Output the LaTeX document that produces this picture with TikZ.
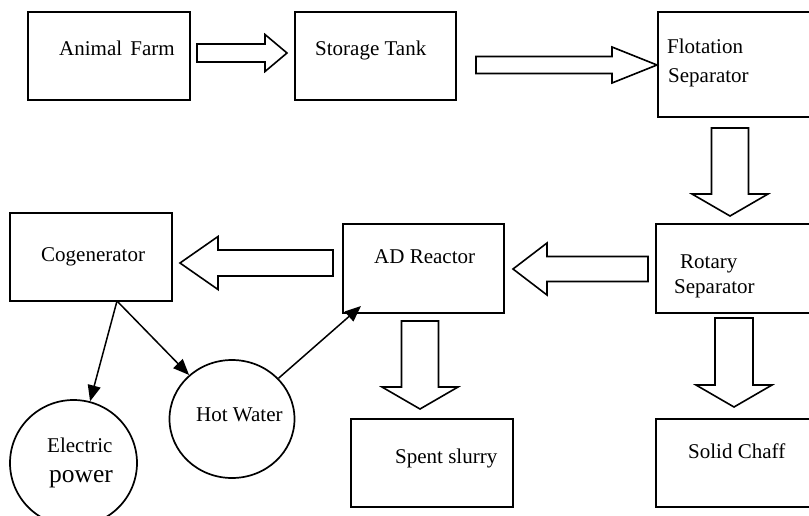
\documentclass[tikz,border=0pt]{standalone}
\usepackage{fontspec}
\setmainfont{Liberation Serif}
\usetikzlibrary{arrows.meta,shapes.geometric}

\tikzset{
  box/.style={draw, line width=1.7pt, inner sep=0pt},
  tank/.style={box, ellipse},
  lbl/.style={anchor=base west, inner sep=0pt, font=\fontsize{21}{25}\selectfont},
  flow/.style={draw, line width=1.6pt, line join=miter},
  conn/.style={line width=1.5pt, -{Triangle[length=16pt,width=13pt]}},
}

\begin{document}
\begin{tikzpicture}[x=1pt, y=-1pt]
  \useasboundingbox (0,0) rectangle (809,515);
  \clip (0,0) rectangle (809,515);
  % process boxes
  \node[box, minimum width=162, minimum height=88] (farm) at (109,56) {};
  \node[box, minimum width=161, minimum height=88] (storage) at (375.5,56) {};
  \node[box, minimum width=172, minimum height=105] (flot) at (744,64.5) {};
  \node[box, minimum width=174, minimum height=89] (rotary) at (743,268.5) {};
  \node[box, minimum width=161, minimum height=89] (ad) at (423.5,268.5) {};
  \node[box, minimum width=162, minimum height=88] (cog) at (91,257) {};
  \node[box, minimum width=162, minimum height=88] (slurry) at (432,463) {};
  \node[box, minimum width=174, minimum height=88] (chaff) at (743,463) {};
  \node[tank, minimum width=125, minimum height=118] (hot) at (232,419) {};
  \node[tank, minimum width=127, minimum height=126] (elec) at (73.5,463) {};
  % labels
  \node[lbl] (farmlbl) at (59,55) {Animal\hspace{3pt} Farm};
  \node[lbl] (storagelbl) at (315,55) {Storage Tank};
  \node[lbl] (flotlbl) at (667,53) {Flotation};
  \node[lbl] (flotlblb) at (668,82) {Separator};
  \node[lbl] (rotarylbl) at (680,268) {Rotary};
  \node[lbl] (rotarylblb) at (674,293) {Separator};
  \node[lbl] (adlbl) at (374,263) {AD Reactor};
  \node[lbl] (coglbl) at (41,261) {Cogenerator};
  \node[lbl] (slurrylbl) at (395,463) {Spent slurry};
  \node[lbl] (chafflbl) at (688,458) {Solid Chaff};
  \node[lbl] (hotlbl) at (196,421) {Hot Water};
  \node[lbl] (eleclbl) at (47,452) {Electric};
  \node[lbl, font=\fontsize{25.5}{30}\selectfont] (eleclblb) at (49,482) {power};
  % block arrows: start x/y, angle, length, head length, shaft and head half widths
  \foreach \sx/\sy/\ang/\len/\hl/\sw/\hw in {
      197/53/0/90/22/9/18.5,
      476/65/0/181/45/8.5/18,
      730/128/-90/88/22/18.5/38,
      648/269/180/135/34/12.5/26,
      333/263/180/153/38/13/26.5,
      420/321/-90/88/22/18.5/38,
      734/318/-90/89/22/19/38} {
    \draw[flow, shift={(\sx,\sy)}, rotate=\ang]
      (0,-\sw) -- (\len-\hl,-\sw) -- (\len-\hl,-\hw) -- (\len,0)
      -- (\len-\hl,\hw) -- (\len-\hl,\sw) -- (0,\sw) -- cycle;
  }
  % cogenerator outputs
  \coordinate (cogout) at (117,301);
  \coordinate (adin) at (361,306);
  \draw[conn] (cogout) -- (elec);
  \draw[conn] (cogout) -- (hot);
  \draw[conn] (hot) -- (adin);
\end{tikzpicture}
\end{document}
